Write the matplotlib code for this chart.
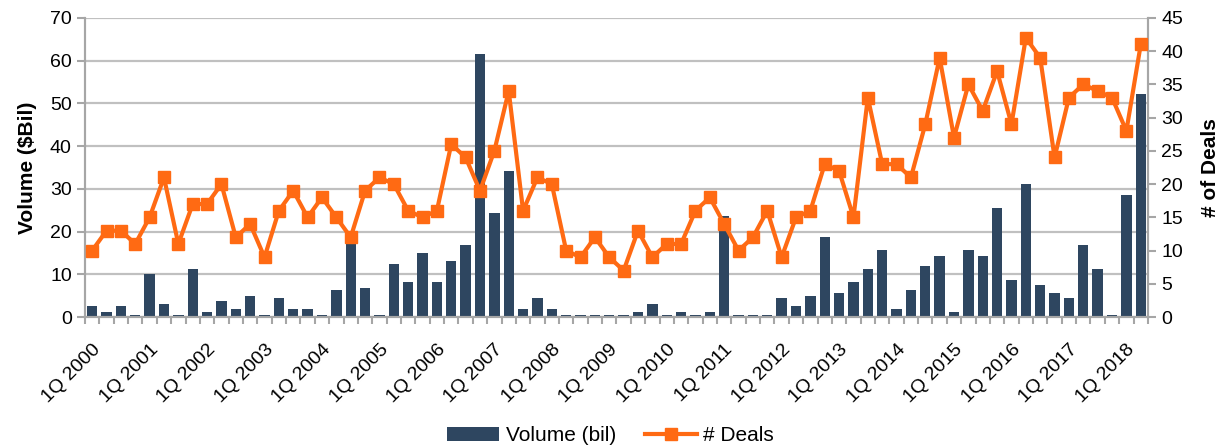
import matplotlib
matplotlib.use("Agg")
import matplotlib.pyplot as plt
import matplotlib.transforms as mtransforms
import numpy as np

plt.rcParams['font.family'] = ['Liberation Sans', 'DejaVu Sans']

# quarterly volume ($ bil), 1Q 2000 .. 2Q 2018
volume = [2.5, 1.25, 2.5, 0.6, 10.0, 3.1, 0.6, 11.3, 1.25, 3.75, 1.9, 5.0,
          0.6, 4.4, 1.9, 1.9, 0.6, 6.25, 18.0, 6.9, 0.6, 12.5, 8.1, 15.0,
          8.1, 13.1, 16.9, 61.6, 24.4, 34.2, 1.9, 4.4, 1.9, 0.6, 0.6, 0.6,
          0.6, 0.6, 1.25, 3.1, 0.6, 1.25, 0.6, 1.25, 23.6, 0.6, 0.6, 0.6,
          4.4, 2.5, 5.0, 18.8, 5.6, 8.1, 11.3, 15.6, 1.9, 6.25, 11.9, 14.4,
          1.25, 15.6, 14.4, 25.6, 8.75, 31.1, 7.5, 5.6, 4.4, 16.9, 11.3, 0.6,
          28.6, 52.2]
deals = [10, 13, 13, 11, 15, 21, 11, 17, 17, 20, 12, 14,
         9, 16, 19, 15, 18, 15, 12, 19, 21, 20, 16, 15,
         16, 26, 24, 19, 25, 34, 16, 21, 20, 10, 9, 12,
         9, 7, 13, 9, 11, 11, 16, 18, 14, 10, 12, 16,
         9, 15, 16, 23, 22, 15, 33, 23, 23, 21, 29, 39,
         27, 35, 31, 37, 29, 42, 39, 24, 33, 35, 34, 33,
         28, 41]
years = list(range(2000, 2019))
labels = ['1Q %d' % y for y in years]

bar_color = '#2E4660'
line_color = '#FF6A13'
gray = '#A6A6A6'

x = np.arange(len(volume))

fig = plt.figure(figsize=(12.19, 4.46), dpi=100)
ax = fig.add_axes([0.0697, 0.289, 0.872, 0.671])
ax2 = ax.twinx()

ax.bar(x, volume, width=0.72, color=bar_color, zorder=2, label='Volume (bil)')
ax2.plot(x, deals, color=line_color, lw=3, marker='s', ms=8,
         label='# Deals', zorder=3)

ax.set_xlim(-0.5, len(volume) - 0.5)
ax.set_ylim(0, 70)
ax.set_yticks(range(0, 71, 10))
ax2.set_ylim(0, 45)
ax2.set_yticks(range(0, 46, 5))

ax.yaxis.grid(True, color='#C0C0C0', lw=1.6, zorder=0)
ax.set_axisbelow(True)

ax.set_xticks(x[::4])
ax.set_xticklabels(labels, rotation=45, ha='right', rotation_mode='anchor',
                   fontsize=14)
shift = mtransforms.ScaledTranslation(0.08, 0, fig.dpi_scale_trans)
for lab in ax.get_xticklabels():
    lab.set_transform(lab.get_transform() + shift)
ax.set_xticks(np.arange(-0.5, len(volume)), minor=True)
ax.tick_params(axis='x', which='major', length=0, pad=17)
ax.tick_params(axis='x', which='minor', length=5, width=1.5, color=gray)
ax.tick_params(axis='y', labelsize=14, length=6, width=1.5, color=gray)
ax2.tick_params(axis='y', labelsize=14, length=6, width=1.5, color=gray)

for a in (ax, ax2):
    a.spines['top'].set_visible(False)
    for s in ('left', 'right', 'bottom'):
        a.spines[s].set_color(gray)
        a.spines[s].set_linewidth(1.5)

ax.set_ylabel('Volume ($Bil)', fontsize=15, fontweight='bold', labelpad=9)
ax2.set_ylabel('# of Deals', fontsize=15, fontweight='bold', rotation=90,
               labelpad=13)

h1, l1 = ax.get_legend_handles_labels()
h2, l2 = ax2.get_legend_handles_labels()
fig.legend(h1 + h2, l1 + l2, loc='lower center', bbox_to_anchor=(0.501, -0.04),
           ncol=2, frameon=False, fontsize=15, handlelength=2.5,
           columnspacing=1.4, handletextpad=0.3)

fig.savefig('out.png', dpi=100)
